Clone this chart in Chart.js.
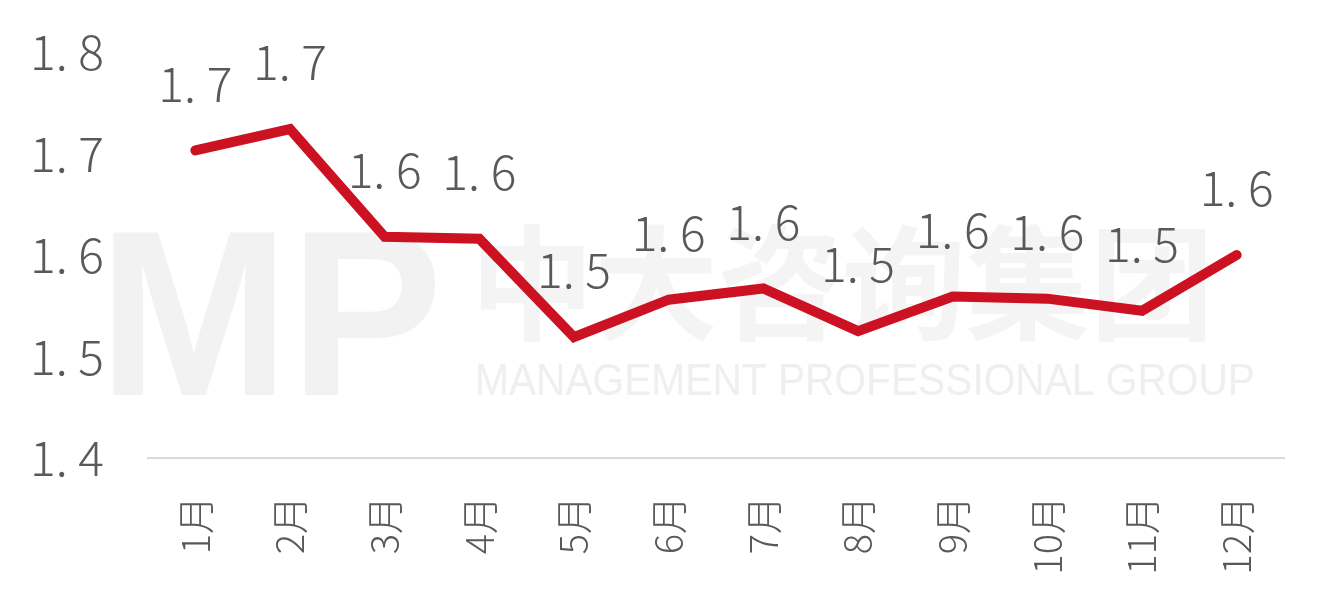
<!DOCTYPE html>
<html>
<head>
<meta charset="utf-8">
<script src="https://cdn.jsdelivr.net/npm/chart.js@4"></script>
<style>
  html, body { margin: 0; padding: 0; background: #fff; }
  #wrap { width: 1330px; height: 604px; }
</style>
</head>
<body>
<div id="wrap"><canvas id="lineChart" width="1330" height="604"></canvas></div>
<script>
// 데이터
const months = ['1月', '2月', '3月', '4月', '5月', '6月', '7月', '8月', '9月', '10月', '11月', '12月'];
const values = [1.703, 1.724, 1.618, 1.616, 1.519, 1.556, 1.567, 1.525, 1.559, 1.557, 1.545, 1.600];
const pointLabels = ['1. 7', '1. 7', '1. 6', '1. 6', '1. 5', '1. 6', '1. 6', '1. 5', '1. 6', '1. 6', '1. 5', '1. 6'];
const yTickValues = [1.4, 1.5, 1.6, 1.7, 1.8];
const yTickLabels = ['1. 4', '1. 5', '1. 6', '1. 7', '1. 8'];

const FONT = '"Noto Sans CJK SC", "Noto Sans", sans-serif';

// 배경 워터마크
const watermark = {
    id: 'watermark',
    beforeDraw(chart) {
        const ctx = chart.ctx;
        ctx.save();
        ctx.textBaseline = 'alphabetic';
        ctx.textAlign = 'left';
        ctx.fillStyle = '#f2f2f2';
        ctx.font = 'bold 236px "Liberation Sans", sans-serif';
        ctx.fillText('MP', 98, 395, 345);
        ctx.fillStyle = '#f4f4f4';
        ctx.font = 'bold 124px ' + FONT;
        ctx.fillText('中大咨询集团', 470, 330, 790);
        ctx.fillStyle = '#efefef';
        ctx.font = '44px "Liberation Sans Narrow", "Liberation Sans", sans-serif';
        ctx.fillText('MANAGEMENT PROFESSIONAL GROUP', 475, 395, 780);
        ctx.restore();
    }
};

// 데이터 라벨
const valueLabels = {
    id: 'valueLabels',
    afterDatasetsDraw(chart) {
        const ctx = chart.ctx;
        const meta = chart.getDatasetMeta(0);
        ctx.save();
        ctx.font = '300 48px ' + FONT;
        ctx.fillStyle = '#595959';
        ctx.textAlign = 'center';
        ctx.textBaseline = 'middle';
        meta.data.forEach((pt, i) => {
            ctx.fillText(pointLabels[i], pt.x, pt.y - 67);
        });
        ctx.restore();
    }
};

const ctx = document.getElementById('lineChart').getContext('2d');
new Chart(ctx, {
    type: 'line',
    data: {
        labels: months,
        datasets: [{
            data: values,
            borderColor: '#cc1122',
            borderWidth: 10,
            borderCapStyle: 'round',
            borderJoinStyle: 'miter',
            tension: 0,
            pointRadius: 0,
            fill: false
        }]
    },
    options: {
        responsive: false,
        animation: false,
        layout: { padding: { top: 52, right: 46, left: 30, bottom: 0 } },
        plugins: {
            legend: { display: false },
            tooltip: { enabled: false }
        },
        scales: {
            x: {
                offset: true,
                grid: { display: false },
                border: { display: true, color: '#d9d9d9', width: 2 },
                ticks: {
                    minRotation: 90,
                    maxRotation: 90,
                    padding: 30,
                    color: '#595959',
                    font: { family: FONT, size: 38, weight: '300' }
                },
                afterFit(scale) { scale.height = 146; }
            },
            y: {
                min: 1.4,
                max: 1.8,
                afterBuildTicks(scale) {
                    scale.ticks = yTickValues.map(v => ({ value: v }));
                },
                grid: { display: false, drawTicks: false },
                border: { display: false },
                ticks: {
                    padding: 0,
                    crossAlign: 'far',
                    color: '#595959',
                    font: { family: FONT, size: 48, weight: '300' },
                    callback: (v) => yTickLabels[yTickValues.findIndex(t => Math.abs(t - v) < 1e-6)]
                },
                afterFit(scale) { scale.width = 118; }
            }
        }
    },
    plugins: [watermark, valueLabels]
});
</script>
</body>
</html>
